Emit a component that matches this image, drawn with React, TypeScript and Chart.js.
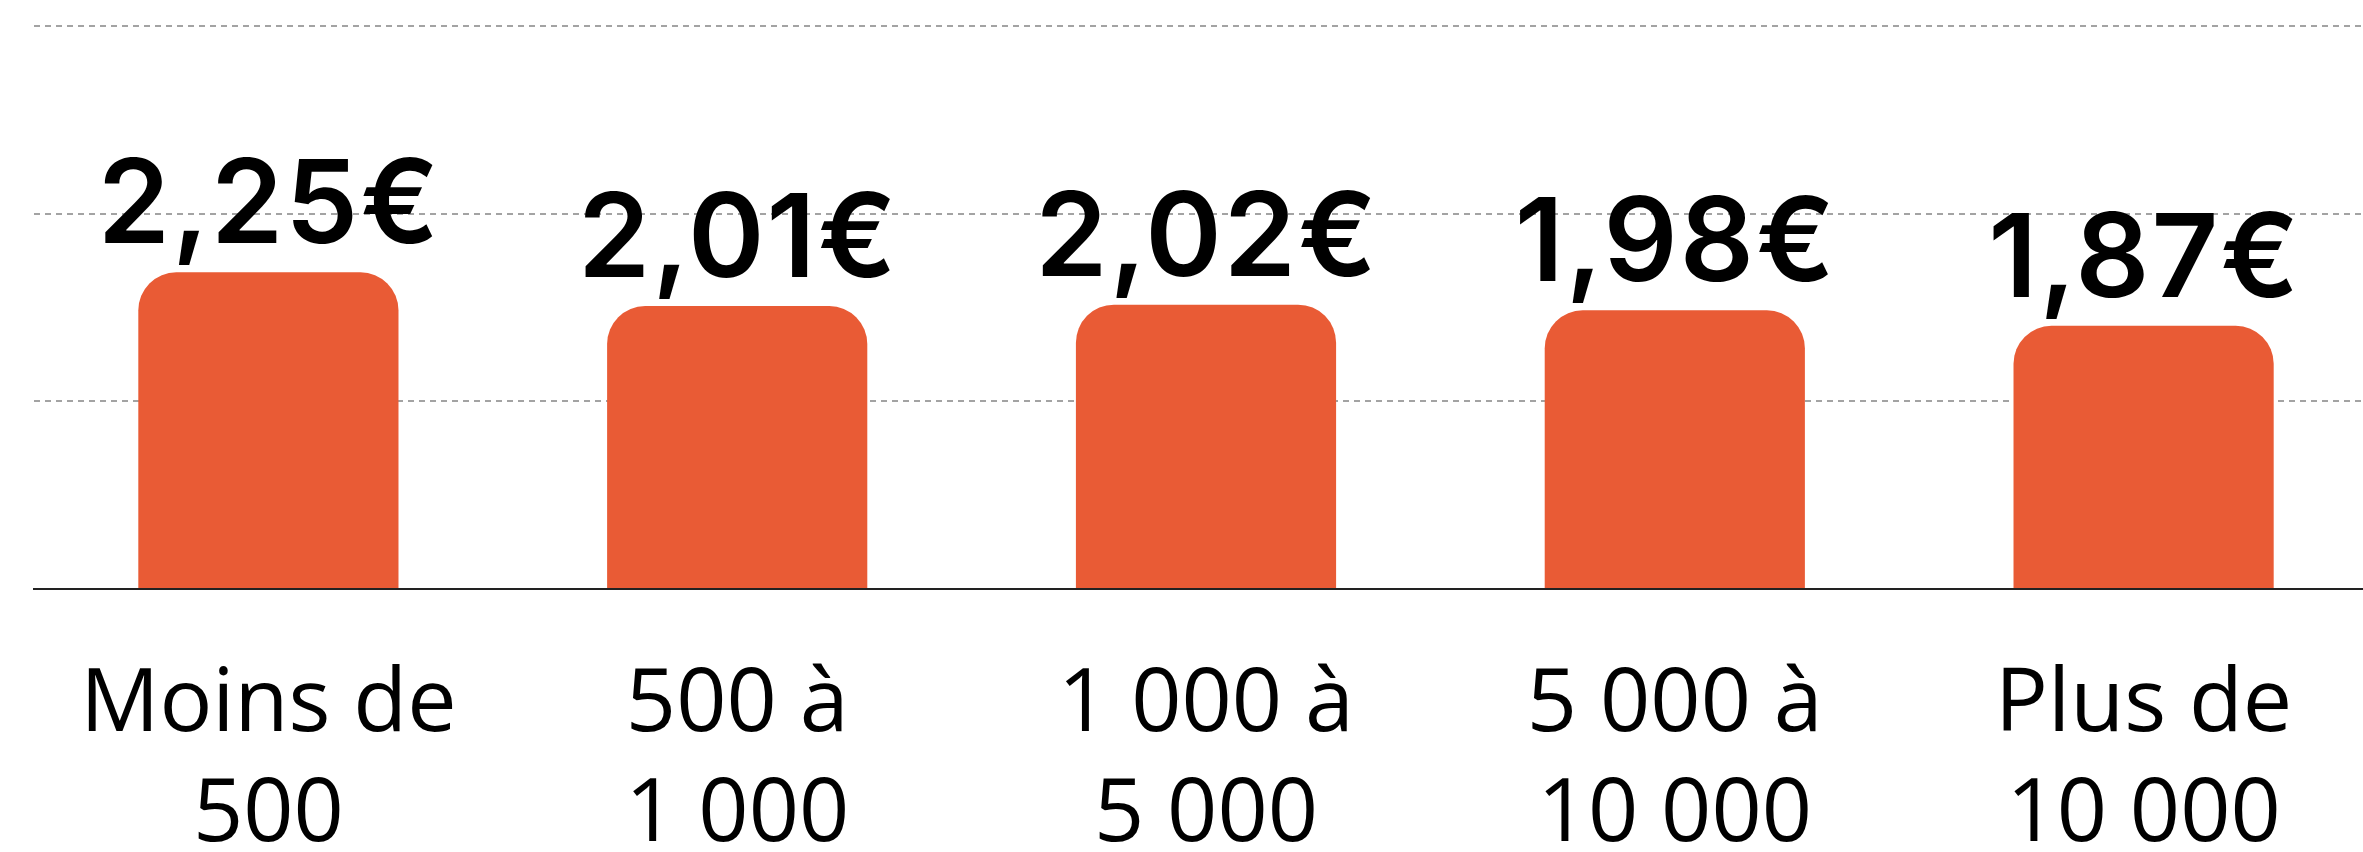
import React, { useEffect, useRef } from "react";
import { Chart, registerables } from "chart.js";

Chart.register(...registerables);

const categories: string[][] = [
  ["Moins de", "500"],
  ["500 à", "1 000"],
  ["1 000 à", "5 000"],
  ["5 000 à", "10 000"],
  ["Plus de", "10 000"],
];
const values: number[] = [2.25, 2.01, 2.02, 1.98, 1.87];
const yMin = 0;
const yMax = 4;
const yTickCount = 4;

const BAR_COLOR = "#E95B35";
const FONT = "'Open Sans', 'Liberation Sans', sans-serif";
const VALUE_FONT = "Inter, 'Liberation Sans', sans-serif";

const valueLabelPlugin = {
  id: "valueLabels",
  afterDatasetsDraw(chart: any) {
    const { ctx } = chart;
    const meta = chart.getDatasetMeta(0);
    ctx.save();
    ctx.fillStyle = "#000";
    ctx.font = `600 116px ${VALUE_FONT}`;
    ctx.textAlign = "center";
    ctx.textBaseline = "alphabetic";
    try {
      (ctx as any).letterSpacing = "2px";
    } catch (e) {}
    meta.data.forEach((bar: any, i: number) => {
      const txt = values[i].toFixed(2).replace(".", ",") + "€";
      ctx.fillText(txt, bar.x + 1, bar.y - 29);
    });
    ctx.restore();
  },
};

export default function App() {
  const ref = useRef<HTMLCanvasElement | null>(null);
  useEffect(() => {
    if (!ref.current) return;
    const chart = new Chart(ref.current, {
      type: "bar",
      data: {
        labels: categories,
        datasets: [
          {
            data: values,
            backgroundColor: BAR_COLOR,
            borderWidth: 0,
            borderRadius: { topLeft: 38, topRight: 38, bottomLeft: 0, bottomRight: 0 },
            borderSkipped: false,
            barPercentage: 0.555,
            categoryPercentage: 1,
          },
        ],
      },
      options: {
        responsive: false,
        animation: false,
        devicePixelRatio: 1,
        layout: { padding: { top: 26, left: 34, right: 2, bottom: 0 } },
        plugins: {
          legend: { display: false },
          tooltip: { enabled: false },
        },
        scales: {
          x: {
            grid: { display: false, drawTicks: false },
            border: { display: true, color: "#222", width: 2, z: 1 },
            ticks: {
              color: "#000",
              font: { family: FONT, size: 88, lineHeight: 1.25 },
              padding: 62,
              maxRotation: 0,
              autoSkip: false,
            },
          },
          y: {
            min: yMin,
            max: yMax,
            ticks: { display: false, count: yTickCount },
            border: { display: false, dash: [6, 5] },
            grid: {
              drawTicks: false,
              color: (c: any) => (c.tick && c.tick.value === 0 ? "rgba(0,0,0,0)" : "#a3a3a3"),
              lineWidth: 2,
            },
          },
        },
      },
      plugins: [valueLabelPlugin],
    });
    return () => chart.destroy();
  }, []);
  return (
    <div
      style={{
        position: "fixed",
        left: 0,
        top: 0,
        width: 2363,
        height: 852,
        overflow: "hidden",
        background: "#fff",
      }}
    >
      <canvas ref={ref} width={2380} height={933} style={{ display: "block", width: 2380, height: 933 }} />
    </div>
  );
}
